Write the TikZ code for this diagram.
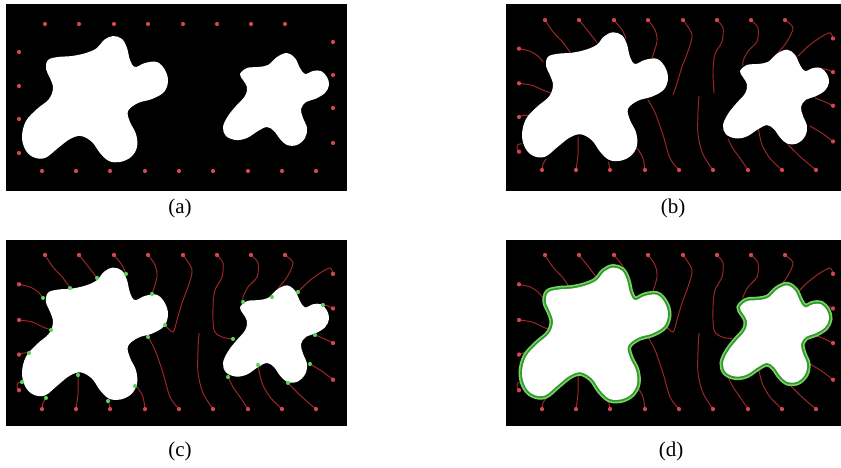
\documentclass[tikz,border=0pt]{standalone}
\usepackage{fontspec}
\setmainfont{Liberation Serif}
\definecolor{reddot}{RGB}{210,70,80}
\definecolor{trajred}{RGB}{160,40,40}
\definecolor{greenpt}{RGB}{90,215,90}
\definecolor{contourlight}{RGB}{120,210,100}
\definecolor{contourdark}{RGB}{45,155,40}
\tikzset{
  panelbg/.style={fill=black},
  traj/.style={draw=trajred, line width=0.95pt, line cap=round, line join=round},
  blobfill/.style={fill=white},
  caption/.style={font=\fontsize{21}{25}\selectfont, inner sep=0pt},
}
\newcommand{\BigBlob}[1]{\path[#1] plot[smooth cycle, tension=0.6] coordinates {
 (48,60) (58,57) (72,56) (86,53) (97,48) (104,40) (113,36) (122,39) (127,48) (130,60) (135,67)
 (145,63) (157,62) (165,70) (168,81) (164,92) (152,99) (138,103) (128,111) (130,122) (136,134)
 (137,147) (131,157) (120,162) (109,161) (100,153) (92,142) (81,136) (70,139) (58,148) (45,158)
 (33,157) (25,149) (22,136) (26,121) (37,109) (49,99) (53,88) (50,78) (46,69)};}
\newcommand{\SmallBlob}[1]{\path[#1] plot[smooth cycle, tension=0.6] coordinates {
 (240,74) (247,68) (258,67) (268,65) (277,57) (287,53) (295,58) (300,68) (305,74) (313,71)
 (321,71) (327,77) (329,85) (325,93) (315,99) (306,102) (301,109) (303,118) (307,128) (305,138)
 (297,145) (287,145) (280,139) (274,131) (267,127) (258,131) (247,138) (236,140) (226,136)
 (223,127) (228,116) (236,106) (245,96) (247,87) (243,80)};}
\newcommand{\TrajCommon}{%
 \draw[traj] plot[smooth] coordinates {(45,24) (53,35.5) (63,45.9) (70,55.5)};
 \draw[traj] plot[smooth] coordinates {(79,24) (87,33.5) (97,45.9)};
 \draw[traj] plot[smooth] coordinates {(114,24) (122,33.5) (126,42.1)};
 \draw[traj] plot[smooth] coordinates {(148,24) (155,33.5) (157,45) (152,61.2)};
 \draw[traj] plot[smooth] coordinates {(251,24) (258,31.6) (257,45) (248,54.5) (243,64.1) (243,68.8)};
 \draw[traj] plot[smooth] coordinates {(285,24) (293,31.6) (287,45) (277,57.4) (272,64.1)};
 \draw[traj] plot[smooth] coordinates {(333,42) (330,36.4) (320,41.2) (308,49.8) (298,59.3)};
 \draw[traj] plot[smooth] coordinates {(333,75) (328,72.7) (323,71.7)};
 \draw[traj] plot[smooth] coordinates {(333,108) (327,105.1) (320,102.2) (315,100.3)};
 \draw[traj] plot[smooth] coordinates {(333,143) (323,135.6) (315,130.8) (310,128)};
 \draw[traj] plot[smooth] coordinates {(42,171) (43,165.2) (46,160.4)};
 \draw[traj] plot[smooth] coordinates {(76,171) (78,155.7) (78,138.5)};
 \draw[traj] plot[smooth] coordinates {(110,171) (109,165.2) (108,163.3)};
 \draw[traj] plot[smooth] coordinates {(145,171) (143,159.5) (138,150.9) (135,149)};
 \draw[traj] plot[smooth] coordinates {(179,171) (170,159.5) (163,136.6) (155,114.6) (148,102.2)};
 \draw[traj] plot[smooth] coordinates {(213,171) (203,155.7) (198,136.6) (198,114.6) (199,98.4)};
 \draw[traj] plot[smooth] coordinates {(248,171) (240,159.5) (233,149.9) (228,140.4)};
 \draw[traj] plot[smooth] coordinates {(282,171) (270,159.5) (262,146.1) (258,128.9)};
 \draw[traj] plot[smooth] coordinates {(316,171) (302,159.5) (288,146.1)};
 \draw[traj] plot[smooth] coordinates {(19,52) (30,54.5) (38,59.3) (43,65)};
 \draw[traj] plot[smooth] coordinates {(19,86) (32,87.9) (43,92.7) (51,95.6)};
 \draw[traj] plot[smooth] coordinates {(19,119) (23,117.5) (29,117.5)};
 \draw[traj] plot[smooth] coordinates {(19,153) (17,149.9) (18,146.1) (22,145.2)};}
\newcommand{\TrajShort}{%
 \draw[traj] plot[smooth] coordinates {(183,24) (192,38.3) (188,54.5) (182,69.8) (177,86) (173,97.5)};
 \draw[traj] plot[smooth] coordinates {(217,24) (223,31.6) (222,45) (215,57.4) (213,73.6) (214,95.6)};}
\newcommand{\TrajLong}{%
 \draw[traj] plot[smooth] coordinates {(183,24) (192,38.3) (188,54.5) (182,69.8) (177,86) (173,97.5) (165,90.8)};
 \draw[traj] plot[smooth] coordinates {(217,24) (223,31.6) (222,45) (215,57.4) (213,73.6) (214,95.6) (222,102.2) (233,104.1)};}
\newcommand{\RedDots}{%
 \foreach \xx in {45,79,114,148,183,217,251,285} {\fill[reddot] (\xx,24) circle (2.1pt);}
 \foreach \xx in {42,76,110,145,179,213,248,282,316} {\fill[reddot] (\xx,171) circle (2.1pt);}
 \foreach \yy in {52,86,119,153} {\fill[reddot] (19,\yy) circle (2.1pt);}
 \foreach \yy in {42,75,108,143} {\fill[reddot] (333,\yy) circle (2.1pt);}}
\newcommand{\GreenDots}{%
 \foreach \xx/\yy in {70/55.5, 97/45.9, 126/42.1, 152/61.2, 165/90.8, 233/104.1, 243/68.8,
   272/64.1, 298/59.3, 323/71.7, 315/100.3, 310/128, 46/160.4, 78/138.5, 108/163.3, 135/149,
   148/102.2, 228/140.4, 258/128.9, 288/146.1, 43/65, 51/95.6, 29/117.5, 22/145.2}
   {\fill[greenpt] (\xx,\yy) circle (2pt);}}
\begin{document}
\begin{tikzpicture}[x=1pt, y=-1pt]
\useasboundingbox (0,0) rectangle (841,467);
\fill[white] (0,0) rectangle (841,467);
% panel (a)
\begin{scope}
 \clip (6,4) rectangle (347,191);
 \fill[panelbg] (6,4) rectangle (347,191);
 \BigBlob{blobfill}
 \SmallBlob{blobfill}
 \RedDots
\end{scope}
% panel (b)
\begin{scope}
 \clip (506,4) rectangle (841,191);
 \fill[panelbg] (506,4) rectangle (841,191);
 \begin{scope}[shift={(500,-4.4)}, yscale=1.02]
  \TrajCommon
  \TrajShort
  \BigBlob{blobfill}
  \SmallBlob{blobfill}
  \RedDots
 \end{scope}
\end{scope}
% panel (c)
\begin{scope}
 \clip (6,240) rectangle (347,426);
 \fill[panelbg] (6,240) rectangle (347,426);
 \begin{scope}[shift={(0,229.85)}, yscale=1.048]
  \TrajCommon
  \TrajLong
  \BigBlob{blobfill}
  \SmallBlob{blobfill}
  \RedDots
  \GreenDots
 \end{scope}
\end{scope}
% panel (d)
\begin{scope}
 \clip (506,240) rectangle (841,426);
 \fill[panelbg] (506,240) rectangle (841,426);
 \begin{scope}[shift={(500,229.85)}, yscale=1.048]
  \TrajCommon
  \TrajLong
  \BigBlob{draw=contourlight, line width=7pt}
  \SmallBlob{draw=contourlight, line width=7pt}
  \BigBlob{draw=contourdark, line width=3.6pt}
  \SmallBlob{draw=contourdark, line width=3.6pt}
  \BigBlob{blobfill}
  \SmallBlob{blobfill}
  \RedDots
 \end{scope}
\end{scope}
\node[caption] (la) at (180,208) {(a)};
\node[caption] (lb) at (673,208) {(b)};
\node[caption] (lc) at (180,451) {(c)};
\node[caption] (ld) at (671,451) {(d)};
\end{tikzpicture}
\end{document}
